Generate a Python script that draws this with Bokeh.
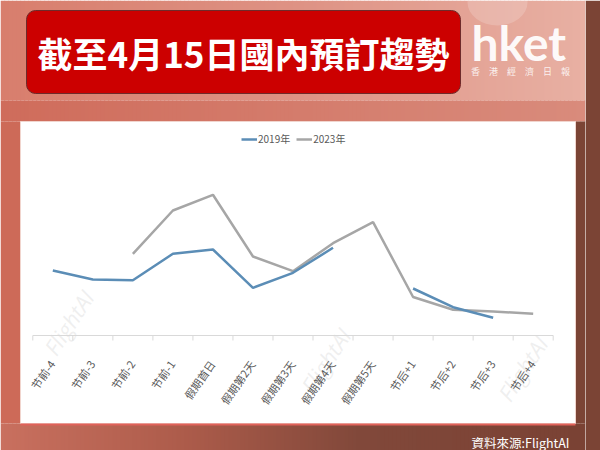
import numpy as np
from bokeh.plotting import figure
from bokeh.models import Range1d, FactorRange, ColumnDataSource, Legend, LegendItem
from bokeh.core.properties import value
from bokeh.transform import dodge
from bokeh.embed import file_html
from bokeh.resources import INLINE

# ---------------- data ----------------
categories = ["节前-4", "节前-3", "节前-2", "节前-1", "假期首日", "假期第2天", "假期第3天",
              "假期第4天", "假期第5天", "节后+1", "节后+2", "节后+3", "节后+4"]
vals_2019 = [65.0, 56.0, 55.3, 81.7, 86.0, 47.7, 62.7, 87.7, np.nan, 47.0, 28.3, 17.7, np.nan]
vals_2023 = [np.nan, np.nan, 81.7, 125.0, 140.7, 79.0, 64.3, 92.3, 113.3, 38.5, 25.7, 24.0, 21.7]
series_names = ["2019年", "2023年"]
title_text = "截至4月15日國內預訂趨勢"
logo_text = "hket"
logo_sub = "香　港　經　濟　日　報"
source_text = "資料來源:FlightAI"
watermark = "FlightAI"

# ---------------- layout (page pixel space) ----------------
W, H = 600, 450
RB = 15                  # right border
X0, X1 = 0, W - RB       # frame extent in page pixels
Y0, Y1 = 0, H
BASE = 335               # baseline of the value scale in page pixels
n = len(categories)
unit = 40.03             # pixels per category
cat_pad = ((X1 - X0) / unit - n) / 2


def X(px):
    """page pixel -> synthetic categorical coordinate (decorations only)"""
    return -cat_pad + (np.asarray(px, dtype=float) - X0) / unit


cat_range = FactorRange(factors=categories, range_padding=2 * cat_pad / n)
p = figure(width=W, height=H, output_backend="svg", toolbar_location=None, title=None,
           x_range=cat_range, y_range=Range1d(Y1, Y0),
           x_axis_type=None, y_axis_type=None,
           min_border=0, min_border_right=RB, min_border_left=0, min_border_top=0, min_border_bottom=0,
           border_fill_color="#7b4435", background_fill_color="#ffffff", outline_line_color=None)
p.extra_y_ranges = {"val": Range1d(BASE - Y1, BASE - Y0)}


def _rgb(h):
    return [int(h[i:i + 2], 16) for i in (1, 3, 5)]


def grad(stops, t):
    pos = [s[0] for s in stops]
    cols = [_rgb(s[1]) for s in stops]
    out = []
    for tt in t:
        c = [np.interp(tt, pos, [cc[k] for cc in cols]) for k in range(3)]
        out.append("#%02x%02x%02x" % tuple(int(round(v)) for v in c))
    return out


def hband(x0, x1, y0, y1, stops, step=4):
    xs = np.arange(x0, x1, step, dtype=float)
    p.quad(left=X(xs), right=X(np.minimum(xs + step + 0.6, x1)), top=y0, bottom=y1,
           fill_color=grad(stops, xs + step / 2), line_color=None)


def box(l, r, t, b, **kw):
    p.quad(left=X([l]), right=X([r]), top=[t], bottom=[b], **kw)


# background
hband(X0, X1, Y0, 100, [(0, "#d87e6d"), (300, "#de9284"), (585, "#e8b0a3")])
hband(X0, X1, 100, 121, [(0, "#cf6c5b"), (585, "#d98b7c")])
box(X0, 20, 121, 423, fill_color="#cd6a58", line_color=None)
box(575, X1, 121, 423, fill_color="#7b4435", line_color=None)
hband(X0, X1, 423, Y1, [(0, "#c9705f"), (180, "#ad5c4b"), (360, "#81483a"), (585, "#7a4234")])
p.ellipse(x=X([497]), y=[2], width=60 / unit, height=46, fill_color="white", fill_alpha=0.18,
          line_color=None)

# white chart panel
box(20, 575, 121, 423, fill_color="white", line_color="#f1d5ce", line_width=1)
box(20, 575, 423, 425, fill_color="#e0625a", line_color=None)

# title box
box(26, 460, 10, 93, border_radius=9, fill_color="#cc0000", line_color="#6e2a2a", line_width=1)
p.text(x=X([243]), y=[51.5], text=[title_text], text_font=value("Noto Sans CJK TC"),
       text_font_style="bold", text_font_size="35px", text_color="white",
       text_align="center", text_baseline="middle")

# logo
p.text(x=X([471]), y=[42], text=[logo_text], text_font=value("Lato"), text_font_style="bold",
       text_font_size="48px", text_color="white", text_alpha=0.95,
       text_align="left", text_baseline="middle")
p.text(x=X([520]), y=[71], text=[logo_sub], text_font=value("Noto Sans CJK TC"),
       text_font_size="9px", text_color="white", text_alpha=0.85,
       text_align="center", text_baseline="middle")

# source note
p.text(x=X([569]), y=[441.5], text=[source_text], text_font=value("Noto Sans CJK TC"),
       text_font_size="12.5px", text_color="white", text_align="right", text_baseline="middle")

# faint watermarks
p.text(x=X([68, 325, 522]), y=[13, -25, -33], text=[watermark] * 3, y_range_name="val",
       angle=np.deg2rad(57), text_font=value("Open Sans"), text_font_style="italic",
       text_font_size="22px", text_color="#dcdcdc", text_alpha=0.45,
       text_align="center", text_baseline="middle")

# category axis (line, ticks between categories, rotated labels)
tick_src = ColumnDataSource(dict(c=categories))
end_src = ColumnDataSource(dict(a=[categories[0]], b=[categories[-1]]))
p.segment(x0=dodge("a", -0.5, range=cat_range), x1=dodge("b", 0.5, range=cat_range), y0=0, y1=0,
          source=end_src, y_range_name="val", line_color="#d9d9d9", line_width=1)
p.segment(x0=dodge("c", -0.5, range=cat_range), x1=dodge("c", -0.5, range=cat_range), y0=0, y1=-5,
          source=tick_src, y_range_name="val", line_color="#d9d9d9", line_width=1)
p.segment(x0=dodge("b", 0.5, range=cat_range), x1=dodge("b", 0.5, range=cat_range), y0=0, y1=-5,
          source=end_src, y_range_name="val", line_color="#d9d9d9", line_width=1)
p.text(x="c", y=-26, text="c", source=tick_src, y_range_name="val",
       angle=np.deg2rad(55), x_offset=-1, text_align="right", text_baseline="middle",
       text_font=value("Noto Sans CJK SC"), text_font_size="11px", text_color="#595959")

# series
src = ColumnDataSource(dict(cat=categories, y2019=np.array(vals_2019), y2023=np.array(vals_2023)))
r23 = p.line("cat", "y2023", source=src, y_range_name="val", line_color="#a6a6a6", line_width=2.5)
r19 = p.line("cat", "y2019", source=src, y_range_name="val", line_color="#5b8db6", line_width=2.5)

legend = Legend(items=[LegendItem(label=series_names[0], renderers=[r19]),
                       LegendItem(label=series_names[1], renderers=[r23])],
                orientation="horizontal", location=(241, 304), padding=0, margin=0, spacing=6,
                glyph_width=16, glyph_height=12, label_height=12, label_standoff=1,
                label_text_font="Noto Sans CJK SC", label_text_font_size="10px",
                label_text_color="#595959", background_fill_alpha=0, border_line_alpha=0)
p.add_layout(legend)

open("out.html", "w").write(file_html(p, INLINE))
